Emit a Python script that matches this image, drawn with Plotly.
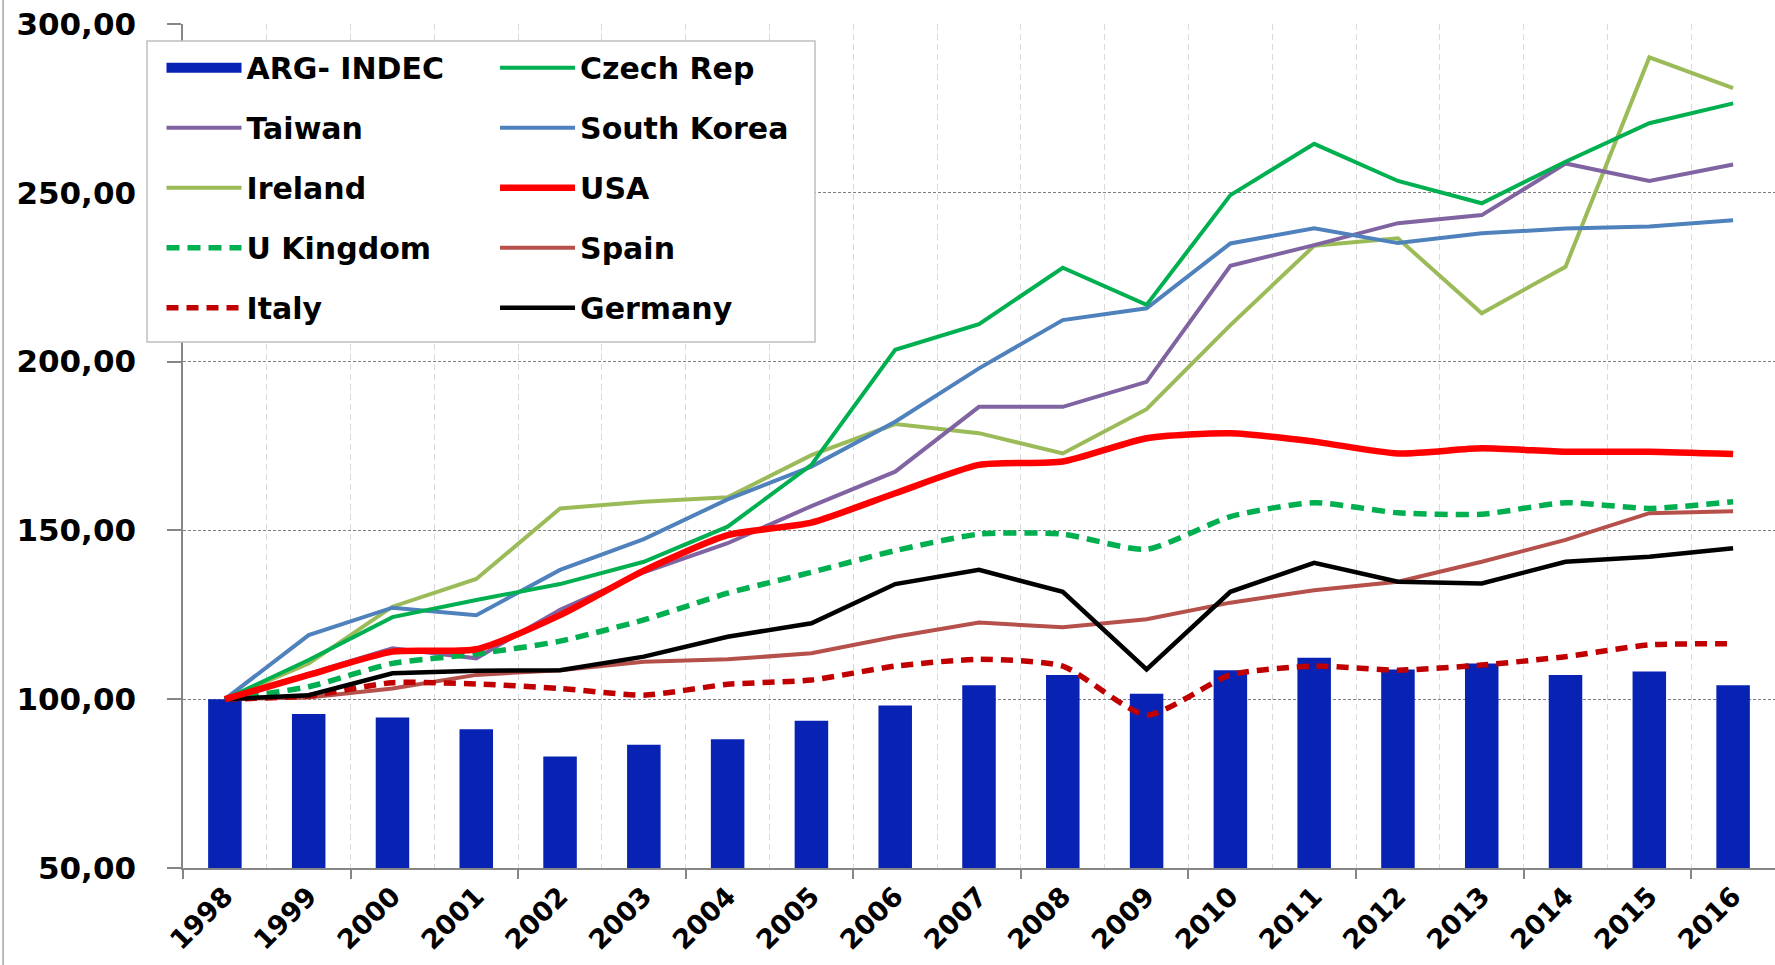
import plotly.graph_objects as go

years = [1998, 1999, 2000, 2001, 2002, 2003, 2004, 2005, 2006, 2007,
         2008, 2009, 2010, 2011, 2012, 2013, 2014, 2015, 2016]
year_labels = [str(y) for y in years]

arg_indec = [100, 95.6, 94.6, 91.1, 83.0, 86.5, 88.1, 93.6, 98.1, 104.1,
             107.2, 101.6, 108.6, 112.3, 108.8, 110.6, 107.2, 108.2, 104.1]
czech = [100, 111.6, 124.3, 129.4, 134.1, 140.7, 151.1, 169.4, 203.5, 211.1,
         227.8, 216.8, 249.3, 264.5, 253.5, 246.9, 259.2, 270.6, 276.5]
taiwan = [100, 107.7, 115.1, 112.1, 126.5, 137.6, 146.2, 157.2, 167.4, 186.6,
          186.6, 194.0, 228.4, 234.5, 241.0, 243.4, 258.7, 253.5, 258.4]
south_korea = [100, 119.0, 127.1, 124.9, 138.3, 147.4, 159.2, 168.9, 182.2, 198.0,
               212.3, 215.8, 235.0, 239.5, 235.1, 238.0, 239.4, 240.0, 241.9]
ireland = [100, 110.6, 127.4, 135.6, 156.5, 158.5, 159.8, 172.3, 181.5, 178.8,
           172.8, 185.9, 210.8, 234.3, 236.5, 214.3, 228.1, 290.1, 281.0]
usa = [100, 107.2, 114.1, 114.8, 124.9, 138.1, 148.6, 152.3, 161.0, 169.4,
       170.4, 177.3, 178.8, 176.3, 172.8, 174.3, 173.3, 173.3, 172.6]
u_kingdom = [100, 103.7, 110.6, 113.4, 117.2, 123.5, 131.4, 137.6, 144.0, 148.9,
             148.9, 144.4, 154.1, 158.2, 155.2, 154.8, 158.2, 156.5, 158.5]
spain = [100, 100.5, 103.2, 107.2, 108.6, 111.1, 111.8, 113.6, 118.5, 122.7,
         121.3, 123.7, 128.6, 132.3, 134.8, 140.7, 147.2, 155.1, 155.7]
italy = [100, 101.0, 104.9, 104.5, 103.2, 101.2, 104.4, 105.7, 109.8, 111.8,
         109.8, 95.3, 107.2, 109.8, 108.6, 110.1, 112.6, 116.1, 116.4]
germany = [100, 101.2, 107.7, 108.4, 108.6, 112.6, 118.5, 122.5, 134.1, 138.3,
           131.8, 108.8, 131.8, 140.4, 134.8, 134.3, 140.7, 142.2, 144.7]

y_ticks = [50, 100, 150, 200, 250, 300]
y_tick_labels = ["50,00", "100,00", "150,00", "200,00", "250,00", "300,00"]

boundaries = [y - 0.5 for y in years] + [years[-1] + 0.5]
x_range = [boundaries[0], boundaries[-1]]

FONT = "DejaVu Sans"
BAR_COLOR = "#0822B3"

fig = go.Figure()

# bars
fig.add_trace(go.Bar(x=years, y=arg_indec, name="ARG- INDEC", marker_color=BAR_COLOR,
                     marker_line_width=0, width=0.4, showlegend=False))

lines = [
    ("Ireland", ireland, "#9BBB59", 4, "solid", "linear", "legend", 3),
    ("Taiwan", taiwan, "#8064A2", 4, "solid", "linear", "legend", 2),
    ("South Korea", south_korea, "#4F81BD", 4, "solid", "linear", "legend2", 2),
    ("Czech Rep", czech, "#00B050", 4, "solid", "linear", "legend2", 1),
    ("Spain", spain, "#B5504B", 4, "solid", "linear", "legend2", 4),
    ("Italy", italy, "#C00000", 5.5, "12px,8px", "spline", "legend", 5),
    ("U Kingdom", u_kingdom, "#00B050", 5.5, "13px,8px", "spline", "legend", 4),
    ("Germany", germany, "#000000", 4.5, "solid", "linear", "legend2", 5),
    ("USA", usa, "#FF0000", 6.5, "solid", "spline", "legend2", 3),
]

# legend proxy for the bar series (wide blue swatch), placed on overlay axis
fig.add_trace(go.Scatter(x=[None], y=[None], mode="lines", name="ARG- INDEC",
                         line=dict(color=BAR_COLOR, width=20), legend="legend",
                         legendgroup="ARG", legendrank=1, xaxis="x2",
                         hoverinfo="skip"))

for name, vals, color, width, dash, shape, leg, rank in lines:
    fig.add_trace(go.Scatter(
        x=years, y=vals, name=name, mode="lines",
        line=dict(color=color, width=width, dash=dash, shape=shape,
                  smoothing=0.6 if shape == "spline" else None),
        legend=leg, legendgroup=name, legendrank=rank))

legend_font = dict(family=FONT, size=30, color="black", weight="bold")
leg_common = dict(orientation="v", font=legend_font, bgcolor="rgba(0,0,0,0)",
                  borderwidth=0, itemwidth=75, tracegroupgap=18,
                  yanchor="top", xanchor="left", itemclick=False)

fig.update_layout(
    width=1775, height=965, autosize=False,
    margin=dict(l=183, r=0, t=24, b=97),
    plot_bgcolor="white", paper_bgcolor="white",
    barmode="overlay",
    legend=dict(x=-0.0135, y=0.979, **leg_common),
    legend2=dict(x=0.196, y=0.979, **leg_common),
    xaxis=dict(
        range=x_range, tickmode="array", tickvals=years, ticktext=year_labels,
        tickangle=-45, ticks="", showgrid=False, zeroline=False,
        showline=True, linecolor="#868686", linewidth=1.5,
        tickfont=dict(family=FONT, size=27, color="black", weight="bold"),
        minor=dict(tickvals=boundaries, showgrid=True, gridcolor="#D9D9D9",
                   griddash="6px,4px", gridwidth=1, ticks=""),
    ),
    xaxis2=dict(
        range=x_range, overlaying="x", anchor="y", side="bottom",
        tickmode="array", tickvals=boundaries[::2], ticks="outside", ticklen=10,
        tickcolor="#868686", tickwidth=1.5, showticklabels=False,
        showgrid=False, zeroline=False, showline=False,
    ),
    yaxis=dict(
        range=[50, 300], tickmode="array", tickvals=y_ticks, ticktext=y_tick_labels,
        ticks="outside", ticklen=14, tickcolor="#868686", tickwidth=1.5,
        showline=True, linecolor="#868686", linewidth=1.5,
        showgrid=True, gridcolor="#808080", griddash="3px,2px", gridwidth=1,
        zeroline=False, ticklabelstandoff=25,
        tickfont=dict(family=FONT, size=31, color="black", weight="bold"),
    ),
    shapes=[
        dict(type="rect", xref="paper", yref="paper", x0=-0.0226, x1=0.397,
             y0=0.6232, y1=0.9799, line=dict(color="#BFBFBF", width=1.5),
             fillcolor="white", layer="above"),
        dict(type="line", xref="paper", yref="paper", x0=-0.113, x1=-0.113,
             y0=-0.2, y1=1.05, line=dict(color="#A6A6A6", width=1.5)),
    ],
)

fig.write_html("out.html",
               config={"displayModeBar": False},
               post_script="document.body.style.margin='0px';"
                           "document.body.style.overflow='hidden';")
